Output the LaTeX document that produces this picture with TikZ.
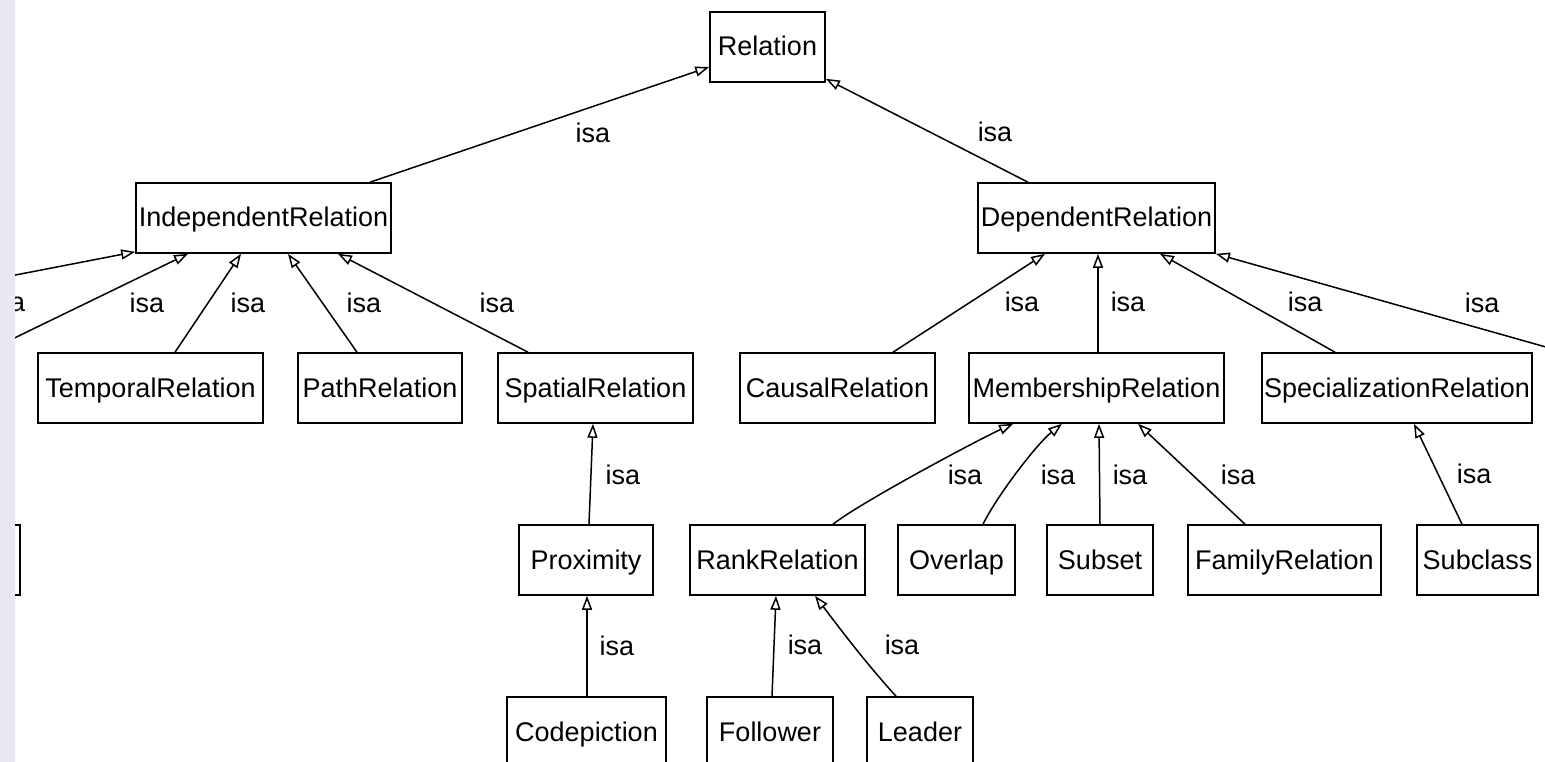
\documentclass[tikz,border=0pt]{standalone}
\usepackage{fontspec}
\setmainfont{Liberation Sans}
\usetikzlibrary{arrows.meta}
\definecolor{sidebar}{RGB}{232,232,244}
\newcommand{\diagfont}{\fontsize{27}{30}\selectfont}
\begin{document}
\begin{tikzpicture}[x=1pt, y=-1pt,
  box/.style={draw, line width=1.6pt, minimum height=70pt, inner sep=0pt,
              text height=22pt, text depth=4pt, font=\diagfont},
  isa/.style={line width=1.5pt, -{Triangle[open, length=14pt, width=10pt]}},
  lbl/.style={inner sep=0pt, font=\diagfont}]
\useasboundingbox (0,0) rectangle (1545,762);
\clip (0,0) rectangle (1545,762);

% class boxes
\node[box, minimum width=115pt] (rel) at (767.5,47) {Relation};
\node[box, minimum width=255pt] (indep) at (263.5,218) {IndependentRelation};
\node[box, minimum width=237pt] (dep) at (1096.5,218) {DependentRelation};
\node[box, minimum width=225pt] (temporal) at (150.5,388) {TemporalRelation};
\node[box, minimum width=164pt] (pathrel) at (380,388) {PathRelation};
\node[box, minimum width=195pt] (spatial) at (595.5,388) {SpatialRelation};
\node[box, minimum width=195pt] (causal) at (837.5,388) {CausalRelation};
\node[box, minimum width=255pt] (member) at (1096.5,388) {MembershipRelation};
\node[box, minimum width=270pt] (special) at (1397,388) {SpecializationRelation};
\node[box, minimum width=120pt] (leftbox) at (-40,560) {};
\node[box, minimum width=134pt] (prox) at (586,560) {Proximity};
\node[box, minimum width=175pt] (rank) at (777.5,560) {RankRelation};
\node[box, minimum width=117pt] (overlap) at (956.5,560) {Overlap};
\node[box, minimum width=106pt] (subset) at (1100,560) {Subset};
\node[box, minimum width=193pt] (family) at (1284.5,560) {FamilyRelation};
\node[box, minimum width=121pt] (subclass) at (1477.5,560) {Subclass};
\node[box, minimum width=159pt] (codep) at (586.5,732) {Codepiction};
\node[box, minimum width=126pt] (follower) at (770,732) {Follower};
\node[box, minimum width=106pt] (leader) at (920,732) {Leader};

% loose ends of links leaving the visible area
\coordinate (offA) at (0,278);
\coordinate (offB) at (0,345);
\coordinate (offC) at (1560,351);

% isa links
\draw[isa] ([xshift=106.5pt]indep.north) -- ([yshift=-20pt]rel.west);
\draw[isa] ([xshift=-68.5pt]dep.north) -- ([yshift=4pt]rel.south east);
\draw[isa] (offA) -- ([yshift=2pt]indep.south west);
\draw[isa] (offB) -- ([xshift=-75.5pt]indep.south);
\draw[isa] ([xshift=24.5pt]temporal.north) -- ([xshift=-22.5pt]indep.south);
\draw[isa] ([xshift=-23pt]pathrel.north) -- ([xshift=24.5pt]indep.south);
\draw[isa] ([xshift=-67.5pt]spatial.north) -- ([xshift=74.5pt]indep.south);
\draw[isa] ([xshift=55.5pt]causal.north) -- ([xshift=-51.5pt]dep.south);
\draw[isa] ([xshift=1.5pt]member.north) -- ([xshift=1.5pt]dep.south);
\draw[isa] ([xshift=-62pt]special.north) -- ([xshift=63.5pt]dep.south);
\draw[isa] (offC) -- (dep.south east);
\draw[isa] ([xshift=3pt]prox.north) -- ([xshift=-2.5pt]spatial.south);
\draw[isa] ([xshift=55.5pt]rank.north) .. controls +(28,-22) and +(-35,16) .. ([xshift=-83.5pt]member.south);
\draw[isa] ([xshift=26.5pt]overlap.north) .. controls +(15,-30) and +(-25,20) .. ([xshift=-34.5pt]member.south);
\draw[isa] (subset.north) -- ([xshift=2.5pt]member.south);
\draw[isa] ([xshift=-39.5pt]family.north) -- ([xshift=41.5pt]member.south);
\draw[isa] ([xshift=-15.5pt]subclass.north) -- ([xshift=17pt]special.south);
\draw[isa] ([xshift=0.5pt]codep.north) -- ([xshift=1pt]prox.south);
\draw[isa] ([xshift=2pt]follower.north) -- ([xshift=-1.5pt]rank.south);
\draw[isa] ([xshift=-24pt]leader.north) .. controls +(-30,-33) and +(25,33) .. ([xshift=37.5pt]rank.south);

% link labels
\node[lbl] (l1) at (593,133) {isa};
\node[lbl] (l2) at (995,132) {isa};
\node[lbl] (l3) at (8,302) {isa};
\node[lbl] (l4) at (147,303) {isa};
\node[lbl] (l5) at (248,303) {isa};
\node[lbl] (l6) at (364,303) {isa};
\node[lbl] (l7) at (497,303) {isa};
\node[lbl] (l8) at (1022,302) {isa};
\node[lbl] (l9) at (1128,302) {isa};
\node[lbl] (l10) at (1305,302) {isa};
\node[lbl] (l11) at (1482,303) {isa};
\node[lbl] (l12) at (623,475) {isa};
\node[lbl] (l13) at (965,475) {isa};
\node[lbl] (l14) at (1058,475) {isa};
\node[lbl] (l15) at (1130,475) {isa};
\node[lbl] (l16) at (1238,475) {isa};
\node[lbl] (l17) at (1474,474) {isa};
\node[lbl] (l18) at (617,646) {isa};
\node[lbl] (l19) at (805,645) {isa};
\node[lbl] (l20) at (902,645) {isa};

% side bar
\fill[sidebar] (0,0) rectangle (15,762);
\end{tikzpicture}
\end{document}
